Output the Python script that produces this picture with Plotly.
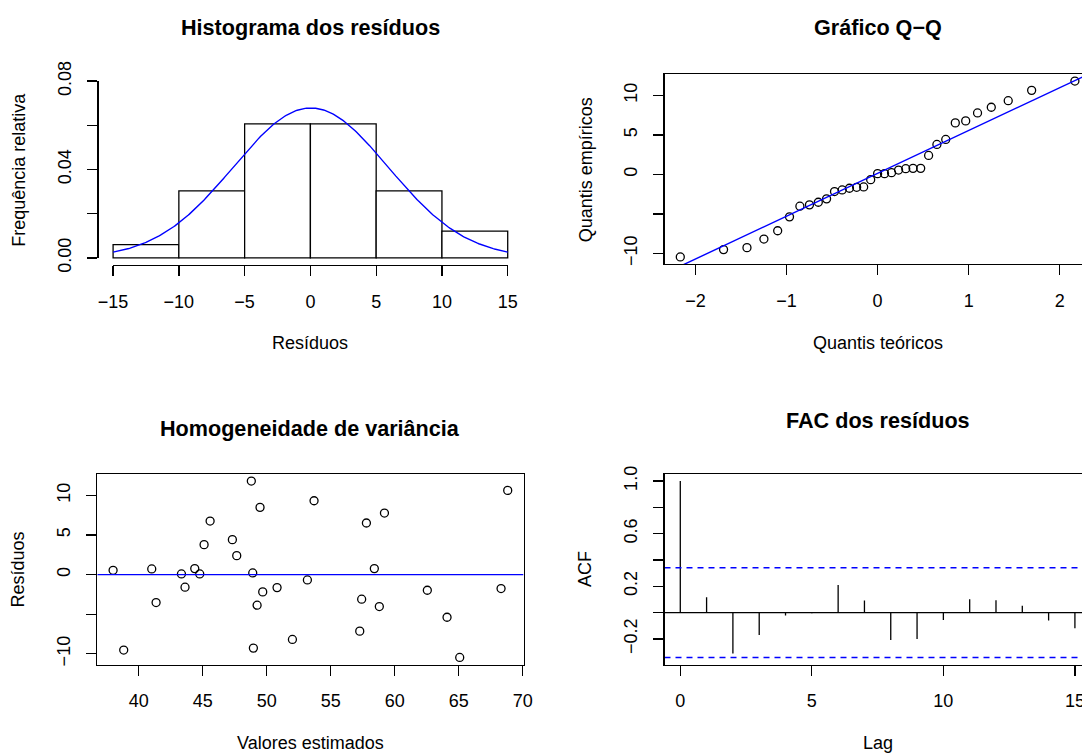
import numpy as np
import plotly.graph_objects as go

W, H = 1082, 753
FONT = "Liberation Sans, Arial, Helvetica, sans-serif"

# ---------------- data ----------------
fitted = [38.00, 38.83, 41.02, 41.36, 43.34, 43.62, 44.38, 44.77, 45.11, 45.58, 47.32,
          47.66, 48.80, 48.91, 48.96, 49.25, 49.48, 49.69, 50.81, 52.01, 53.18, 53.70,
          57.27, 57.42, 57.79, 58.41, 58.80, 59.20, 62.55, 64.09, 65.08, 68.31, 68.83]
residuals = [0.55, -9.53, 0.72, -3.53, 0.09, -1.59, 0.76, 0.09, 3.79, 6.77, 4.42,
             2.40, 11.82, 0.21, -9.28, -3.86, 8.50, -2.18, -1.64, -8.19, -0.67, 9.33,
             -7.14, -3.10, 6.52, 0.76, -4.03, 7.78, -1.97, -5.38, -10.46, -1.76, 10.64]
theoretical_q = [-2.166, -1.691, -1.434, -1.248, -1.097, -0.967, -0.853, -0.748, -0.651,
                 -0.560, -0.473, -0.389, -0.309, -0.230, -0.153, -0.076, 0.000, 0.076,
                 0.153, 0.230, 0.309, 0.389, 0.473, 0.560, 0.651, 0.748, 0.853, 0.967,
                 1.097, 1.248, 1.434, 1.691, 2.166]
lags = list(range(16))
acf_vals = [1.0, 0.117, -0.312, -0.170, -0.023, -0.005, 0.210, 0.091, -0.208, -0.201,
            -0.056, 0.101, 0.093, 0.052, -0.061, -0.119]
ci = 0.3412
hist_breaks = [-15, -10, -5, 0, 5, 10, 15]

titles = ["Histograma dos resíduos", "Gráfico Q\u2212Q",
          "Homogeneidade de variância", "FAC dos resíduos"]
xlabels = ["Resíduos", "Quantis teóricos", "Valores estimados", "Lag"]
ylabels = ["Frequência relativa", "Quantis empíricos", "Resíduos", "ACF"]

# ---------------- geometry helpers ----------------
PW = 426.2            # plot region width (px)
LEFT_L, LEFT_R = 97.3, 664.5
TOP_T, TOP_B = 74.0, 265.0
BOT_T, BOT_B = 474.0, 664.5


def px(x):
    return x / W


def py(y):
    return 1 - y / H


def ext(lo, hi, f=0.04):
    d = (hi - lo) * f
    return [lo - d, hi + d]


def minus(s):
    return s.replace("-", "\u2212")


# ---------------- figure ----------------
fig = go.Figure()

# Histogram
fig.add_trace(go.Histogram(x=residuals, xbins=dict(start=hist_breaks[0], end=hist_breaks[-1], size=5),
                           histnorm="probability density", autobinx=False,
                           marker=dict(color="white", line=dict(color="black", width=1.3)),
                           xaxis="x", yaxis="y", hoverinfo="skip"))
mu = float(np.mean(residuals))
sd = float(np.std(residuals, ddof=1))
xs = np.linspace(hist_breaks[0], hist_breaks[-1], 301)
ys = np.exp(-(xs - mu) ** 2 / (2 * sd ** 2)) / (sd * np.sqrt(2 * np.pi))
fig.add_trace(go.Scatter(x=xs, y=ys, mode="lines", line=dict(color="blue", width=1.4),
                         xaxis="x", yaxis="y", hoverinfo="skip"))
# invisible trace for decorative axes of the histogram
fig.add_trace(go.Scatter(x=[-15, 15], y=[0, 0.08], mode="markers", marker=dict(opacity=0),
                         xaxis="x5", yaxis="y5", hoverinfo="skip"))

# Q-Q plot
sorted_res = np.sort(residuals)
fig.add_trace(go.Scatter(x=theoretical_q, y=sorted_res, mode="markers",
                         marker=dict(symbol="circle-open", size=8, color="black",
                                     line=dict(width=1.3, color="black")),
                         xaxis="x2", yaxis="y2", hoverinfo="skip"))
q1, q3 = np.quantile(sorted_res, [0.25, 0.75])
z1, z3 = -0.6745, 0.6745
slope = (q3 - q1) / (z3 - z1)
inter = q1 - slope * z1
qq_xr = ext(min(theoretical_q), max(theoretical_q))
fig.add_trace(go.Scatter(x=qq_xr, y=[inter + slope * v for v in qq_xr], mode="lines",
                         line=dict(color="blue", width=1.4), xaxis="x2", yaxis="y2",
                         hoverinfo="skip"))

# Residuals vs fitted
res_xr = ext(min(fitted), max(fitted))
fig.add_trace(go.Scatter(x=fitted, y=residuals, mode="markers",
                         marker=dict(symbol="circle-open", size=8, color="black",
                                     line=dict(width=1.3, color="black")),
                         xaxis="x3", yaxis="y3", hoverinfo="skip"))
fig.add_trace(go.Scatter(x=res_xr, y=[0, 0], mode="lines", line=dict(color="blue", width=1.4),
                         xaxis="x3", yaxis="y3", hoverinfo="skip"))

# ACF
acf_xr = ext(min(lags), max(lags))
seg_x, seg_y = [], []
for l, v in zip(lags, acf_vals):
    seg_x += [l, l, None]
    seg_y += [0, v, None]
fig.add_trace(go.Scatter(x=seg_x, y=seg_y, mode="lines", line=dict(color="black", width=1.3),
                         xaxis="x4", yaxis="y4", hoverinfo="skip"))
fig.add_trace(go.Scatter(x=acf_xr, y=[0, 0], mode="lines", line=dict(color="black", width=1.3),
                         xaxis="x4", yaxis="y4", hoverinfo="skip"))
for c in (ci, -ci):
    fig.add_trace(go.Scatter(x=acf_xr, y=[c, c], mode="lines",
                             line=dict(color="blue", width=1.4, dash="6px,5px"),
                             xaxis="x4", yaxis="y4", hoverinfo="skip"))

# ---------------- axes ----------------
tickfont = dict(family=FONT, size=18, color="black")
common = dict(showgrid=False, zeroline=False, linecolor="black", linewidth=1.3,
              ticks="outside", ticklen=10, tickwidth=1.3, tickcolor="black",
              tickfont=tickfont, tickmode="array", automargin=False, fixedrange=True,
              ticklabeloverflow="allow")
xcommon = dict(common, ticklabelstandoff=10)
ycommon = dict(common, tickangle=-90, ticklabelstandoff=9)

# histogram ranges
hx_r = ext(hist_breaks[0], hist_breaks[-1])
hy_r = ext(0, 0.08)
hx_pxu = PW / (hx_r[1] - hx_r[0])
hy_pxu = (TOP_B - TOP_T) / (hy_r[1] - hy_r[0])
hx_lo_px = LEFT_L + (hist_breaks[0] - hx_r[0]) * hx_pxu
hx_hi_px = LEFT_L + (hist_breaks[-1] - hx_r[0]) * hx_pxu
hy_lo_px = TOP_B - (0 - hy_r[0]) * hy_pxu
hy_hi_px = TOP_B - (0.08 - hy_r[0]) * hy_pxu


def right_range(r):
    pxu = PW / (r[1] - r[0])
    return [r[0], r[0] + (W - LEFT_R) / pxu]


res_yr = ext(min(residuals), max(residuals))
acf_yr = ext(min(-ci, min(acf_vals)), max(acf_vals))

fig.update_layout(
    width=W, height=H, autosize=False,
    margin=dict(l=0, r=0, t=0, b=0, pad=0),
    paper_bgcolor="white", plot_bgcolor="rgba(0,0,0,0)",
    showlegend=False, bargap=0,
    font=dict(family=FONT, size=18, color="black"),
    # histogram (hidden main axes)
    xaxis=dict(domain=[px(LEFT_L), px(LEFT_L + PW)], range=hx_r, visible=False, fixedrange=True),
    yaxis=dict(domain=[py(TOP_B), py(TOP_T)], range=hy_r, visible=False, fixedrange=True),
    # histogram decorative axes spanning only the tick range
    xaxis5=dict(xcommon, domain=[px(hx_lo_px), px(hx_hi_px)], range=[-15, 15],
                anchor="free", position=py(TOP_B), showline=True,
                tickvals=hist_breaks, ticktext=[minus(str(v)) for v in hist_breaks]),
    yaxis5=dict(ycommon, domain=[py(hy_lo_px), py(hy_hi_px)], range=[0, 0.08],
                anchor="free", position=px(LEFT_L), showline=True,
                tickvals=[0, 0.02, 0.04, 0.06, 0.08],
                ticktext=["0.00", "", "0.04", "", "0.08"]),
    # Q-Q
    xaxis2=dict(xcommon, domain=[px(LEFT_R), 1], range=right_range(qq_xr), anchor="y2",
                showline=True, mirror=True,
                tickvals=[-2, -1, 0, 1, 2], ticktext=["\u22122", "\u22121", "0", "1", "2"]),
    yaxis2=dict(ycommon, domain=[py(TOP_B - 1), py(TOP_T)], range=res_yr, anchor="x2",
                showline=True, mirror=False,
                tickvals=[-10, -5, 0, 5, 10], ticktext=["\u221210", "", "0", "5", "10"]),
    # residuals vs fitted
    xaxis3=dict(xcommon, domain=[px(LEFT_L), px(LEFT_L + PW)], range=res_xr, anchor="y3",
                showline=True, mirror=True,
                tickvals=[40, 45, 50, 55, 60, 65, 70],
                ticktext=["40", "45", "50", "55", "60", "65", "70"]),
    yaxis3=dict(ycommon, domain=[py(BOT_B), py(BOT_T)], range=res_yr, anchor="x3",
                showline=True, mirror=True,
                tickvals=[-10, -5, 0, 5, 10], ticktext=["\u221210", "", "0", "5", "10"]),
    # ACF
    xaxis4=dict(xcommon, domain=[px(LEFT_R), 1], range=right_range(acf_xr), anchor="y4",
                showline=True, mirror=True,
                tickvals=[0, 5, 10, 15], ticktext=["0", "5", "10", "15"]),
    yaxis4=dict(ycommon, domain=[py(BOT_B), py(BOT_T)], range=acf_yr, anchor="x4",
                showline=True, mirror=False,
                tickvals=[-0.2, 0, 0.2, 0.4, 0.6, 0.8, 1.0],
                ticktext=["\u22120.2", "", "0.2", "", "0.6", "", "1.0"]),
)

# ---------------- titles & axis labels ----------------
anns = []
title_pos = [(310.4, 28), (877.6, 28), (310.4, 428), (877.6, 421)]
xlab_pos = [(310.4, 343), (877.6, 343), (310.4, 743), (877.6, 743)]
ylab_pos = [(18.3, 169.5), (585.7, 169.5), (18.3, 569.3), (585.7, 569.3)]
for t, (x, y) in zip(titles, title_pos):
    anns.append(dict(text="<b>%s</b>" % t, x=px(x), y=py(y), xref="paper", yref="paper",
                     xanchor="center", yanchor="middle", showarrow=False,
                     font=dict(family=FONT, size=21.6, color="black")))
for t, (x, y) in zip(xlabels, xlab_pos):
    anns.append(dict(text=t, x=px(x), y=py(y), xref="paper", yref="paper",
                     xanchor="center", yanchor="middle", showarrow=False,
                     font=dict(family=FONT, size=18, color="black")))
for t, (x, y) in zip(ylabels, ylab_pos):
    anns.append(dict(text=t, x=px(x), y=py(y), xref="paper", yref="paper",
                     xanchor="center", yanchor="middle", showarrow=False, textangle=-90,
                     font=dict(family=FONT, size=18, color="black")))
fig.update_layout(annotations=anns)

fig.write_html("out.html", config=dict(displayModeBar=False, staticPlot=True))
